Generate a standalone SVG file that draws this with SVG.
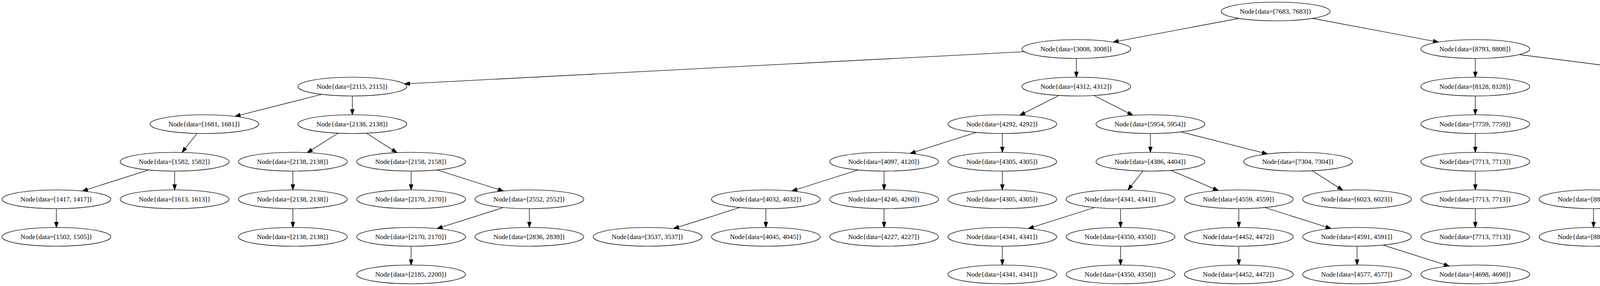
<svg xmlns="http://www.w3.org/2000/svg" width="6040" height="731" viewBox="0 0 6040 731">
<style>
.node ellipse{fill:#fff;stroke:#000;stroke-width:1.33}
.node text{font-family:"Liberation Serif","Times New Roman",serif;font-size:17.5px;text-anchor:middle;fill:#000}
.edges line{stroke:#000;stroke-width:1.33;fill:none;marker-end:url(#arrow)}
</style>
<defs>
<marker id="arrow" markerUnits="userSpaceOnUse" markerWidth="18" markerHeight="14" viewBox="-2 -7 18 14" refX="13.33" refY="0" orient="auto" overflow="visible">
<path d="M0,-4.67 L13.33,0 L0,4.67 Z" fill="#000" stroke="#000" stroke-width="1.33"/>
</marker>
</defs>
<rect x="0" y="0" width="6040" height="731" fill="#fff"/>
<g id="edges" class="edges">
<line x1="3171.7" y1="47.0" x2="2849.6" y2="107.6"/>
<line x1="3360.0" y1="47.0" x2="3682.6" y2="107.6"/>
<line x1="2622.0" y1="132.2" x2="1035.45" y2="214.4"/>
<line x1="2755.5" y1="149.3" x2="2755.5" y2="197.3"/>
<line x1="3776.75" y1="149.3" x2="3776.75" y2="197.3"/>
<line x1="3888.9" y1="139.5" x2="4420.8" y2="207.1"/>
<line x1="823.7" y1="241.15" x2="601.6" y2="297.45"/>
<line x1="902" y1="245.3" x2="902" y2="293.3"/>
<line x1="2710.6" y1="244.0" x2="2610.8" y2="294.6"/>
<line x1="2800.35" y1="244.0" x2="2900.15" y2="294.6"/>
<line x1="3776.75" y1="245.3" x2="3776.75" y2="293.3"/>
<line x1="4533" y1="245.3" x2="4533" y2="293.3"/>
<line x1="4635.5" y1="237.55" x2="5036.0" y2="301.05"/>
<line x1="504.4" y1="341.1" x2="465.9" y2="389.5"/>
<line x1="865.3" y1="340.45" x2="786.5" y2="390.15"/>
<line x1="938.3" y1="340.5" x2="1016.1" y2="390.1"/>
<line x1="2499.45" y1="338.4" x2="2329.75" y2="392.2"/>
<line x1="2565.95" y1="341.3" x2="2565.95" y2="389.3"/>
<line x1="2945" y1="341.3" x2="2945" y2="389.3"/>
<line x1="3023.2" y1="337.2" x2="3244.8" y2="393.4"/>
<line x1="3776.75" y1="341.3" x2="3776.75" y2="389.3"/>
<line x1="4496.6" y1="340.5" x2="4418.55" y2="390.1"/>
<line x1="4569.6" y1="340.5" x2="4648.2" y2="390.15"/>
<line x1="5138.5" y1="341.3" x2="5138.5" y2="389.3"/>
<line x1="5226.55" y1="335.9" x2="5504.9" y2="394.7"/>
<line x1="380.55" y1="434.4" x2="210.85" y2="488.2"/>
<line x1="447.05" y1="437.3" x2="447.05" y2="485.3"/>
<line x1="749.75" y1="437.3" x2="749.75" y2="485.3"/>
<line x1="1052.45" y1="437.3" x2="1052.45" y2="485.3"/>
<line x1="1118.95" y1="434.4" x2="1288.65" y2="488.2"/>
<line x1="2196.75" y1="434.4" x2="2027.05" y2="488.2"/>
<line x1="2263.25" y1="437.3" x2="2263.25" y2="485.3"/>
<line x1="2565.95" y1="437.3" x2="2565.95" y2="485.3"/>
<line x1="2926.1" y1="437.1" x2="2887.55" y2="485.5"/>
<line x1="2997.4" y1="435.55" x2="3118.9" y2="487.05"/>
<line x1="3359.45" y1="436.45" x2="3437.6" y2="486.1"/>
<line x1="3776.75" y1="437.3" x2="3776.75" y2="485.3"/>
<line x1="4315.65" y1="434.4" x2="4145.95" y2="488.2"/>
<line x1="4382.15" y1="437.3" x2="4382.15" y2="485.3"/>
<line x1="4684.85" y1="437.3" x2="4684.85" y2="485.3"/>
<line x1="5102.05" y1="436.45" x2="5023.98" y2="486.1"/>
<line x1="5175.1" y1="436.45" x2="5253.65" y2="486.15"/>
<line x1="5592.95" y1="437.3" x2="5592.95" y2="485.3"/>
<line x1="5659.45" y1="434.4" x2="5829.15" y2="488.2"/>
<line x1="144.35" y1="533.3" x2="144.35" y2="581.3"/>
<line x1="749.75" y1="533.3" x2="749.75" y2="581.3"/>
<line x1="1288.65" y1="530.4" x2="1118.95" y2="584.2"/>
<line x1="1355.15" y1="533.3" x2="1355.15" y2="581.3"/>
<line x1="1894.05" y1="530.4" x2="1724.35" y2="584.2"/>
<line x1="1960.55" y1="533.3" x2="1960.55" y2="581.3"/>
<line x1="2263.25" y1="533.3" x2="2263.25" y2="581.3"/>
<line x1="2802.15" y1="530.4" x2="2632.45" y2="584.2"/>
<line x1="2868.65" y1="533.3" x2="2868.65" y2="581.3"/>
<line x1="3171.35" y1="533.3" x2="3171.35" y2="581.3"/>
<line x1="3237.85" y1="530.4" x2="3407.55" y2="584.2"/>
<line x1="3776.75" y1="533.3" x2="3776.75" y2="581.3"/>
<line x1="4079.45" y1="533.3" x2="4079.45" y2="581.3"/>
<line x1="4382.15" y1="533.3" x2="4382.15" y2="581.3"/>
<line x1="5592.95" y1="533.3" x2="5592.95" y2="581.3"/>
<line x1="1052.45" y1="629.3" x2="1052.45" y2="677.3"/>
<line x1="2565.95" y1="629.3" x2="2565.95" y2="677.3"/>
<line x1="2868.65" y1="629.3" x2="2868.65" y2="677.3"/>
<line x1="3171.35" y1="629.3" x2="3171.35" y2="677.3"/>
<line x1="3474.05" y1="629.3" x2="3474.05" y2="677.3"/>
<line x1="3540.55" y1="626.4" x2="3710.25" y2="680.2"/>
</g>
<g id="n1" class="node"><ellipse cx="3265.8" cy="29.3" rx="139.35" ry="24"/><text x="3265.8" y="34.8">Node{data=[7683, 7683]}</text></g>
<g id="n2" class="node"><ellipse cx="2755.5" cy="125.3" rx="139.35" ry="24"/><text x="2755.5" y="130.8">Node{data=[3008, 3008]}</text></g>
<g id="n3" class="node"><ellipse cx="3776.75" cy="125.3" rx="139.35" ry="24"/><text x="3776.75" y="130.8">Node{data=[8793, 8808]}</text></g>
<g id="n4" class="node"><ellipse cx="902" cy="221.3" rx="139.35" ry="24"/><text x="902" y="226.8">Node{data=[2115, 2115]}</text></g>
<g id="n5" class="node"><ellipse cx="2755.5" cy="221.3" rx="139.35" ry="24"/><text x="2755.5" y="226.8">Node{data=[4312, 4312]}</text></g>
<g id="n6" class="node"><ellipse cx="3776.75" cy="221.3" rx="139.35" ry="24"/><text x="3776.75" y="226.8">Node{data=[8128, 8128]}</text></g>
<g id="n7" class="node"><ellipse cx="4533" cy="221.3" rx="139.35" ry="24"/><text x="4533" y="226.8">Node{data=[8858, 8858]}</text></g>
<g id="n8" class="node"><ellipse cx="523.3" cy="317.3" rx="139.35" ry="24"/><text x="523.3" y="322.8">Node{data=[1681, 1681]}</text></g>
<g id="n9" class="node"><ellipse cx="902" cy="317.3" rx="139.35" ry="24"/><text x="902" y="322.8">Node{data=[2138, 2138]}</text></g>
<g id="n10" class="node"><ellipse cx="2565.95" cy="317.3" rx="139.35" ry="24"/><text x="2565.95" y="322.8">Node{data=[4292, 4292]}</text></g>
<g id="n11" class="node"><ellipse cx="2945" cy="317.3" rx="139.35" ry="24"/><text x="2945" y="322.8">Node{data=[5954, 5954]}</text></g>
<g id="n12" class="node"><ellipse cx="3776.75" cy="317.3" rx="139.35" ry="24"/><text x="3776.75" y="322.8">Node{data=[7759, 7759]}</text></g>
<g id="n13" class="node"><ellipse cx="4533" cy="317.3" rx="139.35" ry="24"/><text x="4533" y="322.8">Node{data=[8834, 8834]}</text></g>
<g id="n14" class="node"><ellipse cx="5138.5" cy="317.3" rx="139.35" ry="24"/><text x="5138.5" y="322.8">Node{data=[9167, 9167]}</text></g>
<g id="n15" class="node"><ellipse cx="447.05" cy="413.3" rx="139.35" ry="24"/><text x="447.05" y="418.8">Node{data=[1582, 1582]}</text></g>
<g id="n16" class="node"><ellipse cx="749.75" cy="413.3" rx="139.35" ry="24"/><text x="749.75" y="418.8">Node{data=[2138, 2138]}</text></g>
<g id="n17" class="node"><ellipse cx="1052.45" cy="413.3" rx="139.35" ry="24"/><text x="1052.45" y="418.8">Node{data=[2158, 2158]}</text></g>
<g id="n18" class="node"><ellipse cx="2263.25" cy="413.3" rx="139.35" ry="24"/><text x="2263.25" y="418.8">Node{data=[4097, 4120]}</text></g>
<g id="n19" class="node"><ellipse cx="2565.95" cy="413.3" rx="139.35" ry="24"/><text x="2565.95" y="418.8">Node{data=[4305, 4305]}</text></g>
<g id="n20" class="node"><ellipse cx="2945" cy="413.3" rx="139.35" ry="24"/><text x="2945" y="418.8">Node{data=[4386, 4404]}</text></g>
<g id="n21" class="node"><ellipse cx="3323" cy="413.3" rx="139.35" ry="24"/><text x="3323" y="418.8">Node{data=[7304, 7304]}</text></g>
<g id="n22" class="node"><ellipse cx="3776.75" cy="413.3" rx="139.35" ry="24"/><text x="3776.75" y="418.8">Node{data=[7713, 7713]}</text></g>
<g id="n23" class="node"><ellipse cx="4382.15" cy="413.3" rx="139.35" ry="24"/><text x="4382.15" y="418.8">Node{data=[8828, 8828]}</text></g>
<g id="n24" class="node"><ellipse cx="4684.85" cy="413.3" rx="139.35" ry="24"/><text x="4684.85" y="418.8">Node{data=[8858, 8858]}</text></g>
<g id="n25" class="node"><ellipse cx="5138.5" cy="413.3" rx="139.35" ry="24"/><text x="5138.5" y="418.8">Node{data=[9085, 9085]}</text></g>
<g id="n26" class="node"><ellipse cx="5592.95" cy="413.3" rx="139.35" ry="24"/><text x="5592.95" y="418.8">Node{data=[9457, 9457]}</text></g>
<g id="n27" class="node"><ellipse cx="144.35" cy="509.3" rx="139.35" ry="24"/><text x="144.35" y="514.8">Node{data=[1417, 1417]}</text></g>
<g id="n28" class="node"><ellipse cx="447.05" cy="509.3" rx="139.35" ry="24"/><text x="447.05" y="514.8">Node{data=[1613, 1613]}</text></g>
<g id="n29" class="node"><ellipse cx="749.75" cy="509.3" rx="139.35" ry="24"/><text x="749.75" y="514.8">Node{data=[2138, 2138]}</text></g>
<g id="n30" class="node"><ellipse cx="1052.45" cy="509.3" rx="139.35" ry="24"/><text x="1052.45" y="514.8">Node{data=[2170, 2170]}</text></g>
<g id="n31" class="node"><ellipse cx="1355.15" cy="509.3" rx="139.35" ry="24"/><text x="1355.15" y="514.8">Node{data=[2552, 2552]}</text></g>
<g id="n32" class="node"><ellipse cx="1960.55" cy="509.3" rx="139.35" ry="24"/><text x="1960.55" y="514.8">Node{data=[4032, 4032]}</text></g>
<g id="n33" class="node"><ellipse cx="2263.25" cy="509.3" rx="139.35" ry="24"/><text x="2263.25" y="514.8">Node{data=[4246, 4260]}</text></g>
<g id="n34" class="node"><ellipse cx="2565.95" cy="509.3" rx="139.35" ry="24"/><text x="2565.95" y="514.8">Node{data=[4305, 4305]}</text></g>
<g id="n35" class="node"><ellipse cx="2868.65" cy="509.3" rx="139.35" ry="24"/><text x="2868.65" y="514.8">Node{data=[4341, 4341]}</text></g>
<g id="n36" class="node"><ellipse cx="3171.35" cy="509.3" rx="139.35" ry="24"/><text x="3171.35" y="514.8">Node{data=[4559, 4559]}</text></g>
<g id="n37" class="node"><ellipse cx="3474.05" cy="509.3" rx="139.35" ry="24"/><text x="3474.05" y="514.8">Node{data=[6023, 6023]}</text></g>
<g id="n38" class="node"><ellipse cx="3776.75" cy="509.3" rx="139.35" ry="24"/><text x="3776.75" y="514.8">Node{data=[7713, 7713]}</text></g>
<g id="n39" class="node"><ellipse cx="4079.45" cy="509.3" rx="139.35" ry="24"/><text x="4079.45" y="514.8">Node{data=[8828, 8828]}</text></g>
<g id="n40" class="node"><ellipse cx="4382.15" cy="509.3" rx="139.35" ry="24"/><text x="4382.15" y="514.8">Node{data=[8834, 8834]}</text></g>
<g id="n41" class="node"><ellipse cx="4684.85" cy="509.3" rx="139.35" ry="24"/><text x="4684.85" y="514.8">Node{data=[8858, 8858]}</text></g>
<g id="n42" class="node"><ellipse cx="4987.55" cy="509.3" rx="139.35" ry="24"/><text x="4987.55" y="514.8">Node{data=[9167, 9167]}</text></g>
<g id="n43" class="node"><ellipse cx="5290.25" cy="509.3" rx="139.35" ry="24"/><text x="5290.25" y="514.8">Node{data=[9167, 9167]}</text></g>
<g id="n44" class="node"><ellipse cx="5592.95" cy="509.3" rx="139.35" ry="24"/><text x="5592.95" y="514.8">Node{data=[9181, 9181]}</text></g>
<g id="n45" class="node"><ellipse cx="5895.65" cy="509.3" rx="139.35" ry="24"/><text x="5895.65" y="514.8">Node{data=[9613, 9613]}</text></g>
<g id="n46" class="node"><ellipse cx="144.35" cy="605.3" rx="139.35" ry="24"/><text x="144.35" y="610.8">Node{data=[1502, 1505]}</text></g>
<g id="n47" class="node"><ellipse cx="749.75" cy="605.3" rx="139.35" ry="24"/><text x="749.75" y="610.8">Node{data=[2138, 2138]}</text></g>
<g id="n48" class="node"><ellipse cx="1052.45" cy="605.3" rx="139.35" ry="24"/><text x="1052.45" y="610.8">Node{data=[2170, 2170]}</text></g>
<g id="n49" class="node"><ellipse cx="1355.15" cy="605.3" rx="139.35" ry="24"/><text x="1355.15" y="610.8">Node{data=[2836, 2839]}</text></g>
<g id="n50" class="node"><ellipse cx="1657.85" cy="605.3" rx="139.35" ry="24"/><text x="1657.85" y="610.8">Node{data=[3537, 3537]}</text></g>
<g id="n51" class="node"><ellipse cx="1960.55" cy="605.3" rx="139.35" ry="24"/><text x="1960.55" y="610.8">Node{data=[4045, 4045]}</text></g>
<g id="n52" class="node"><ellipse cx="2263.25" cy="605.3" rx="139.35" ry="24"/><text x="2263.25" y="610.8">Node{data=[4227, 4227]}</text></g>
<g id="n53" class="node"><ellipse cx="2565.95" cy="605.3" rx="139.35" ry="24"/><text x="2565.95" y="610.8">Node{data=[4341, 4341]}</text></g>
<g id="n54" class="node"><ellipse cx="2868.65" cy="605.3" rx="139.35" ry="24"/><text x="2868.65" y="610.8">Node{data=[4350, 4350]}</text></g>
<g id="n55" class="node"><ellipse cx="3171.35" cy="605.3" rx="139.35" ry="24"/><text x="3171.35" y="610.8">Node{data=[4452, 4472]}</text></g>
<g id="n56" class="node"><ellipse cx="3474.05" cy="605.3" rx="139.35" ry="24"/><text x="3474.05" y="610.8">Node{data=[4591, 4591]}</text></g>
<g id="n57" class="node"><ellipse cx="3776.75" cy="605.3" rx="139.35" ry="24"/><text x="3776.75" y="610.8">Node{data=[7713, 7713]}</text></g>
<g id="n58" class="node"><ellipse cx="4079.45" cy="605.3" rx="139.35" ry="24"/><text x="4079.45" y="610.8">Node{data=[8828, 8828]}</text></g>
<g id="n59" class="node"><ellipse cx="4382.15" cy="605.3" rx="139.35" ry="24"/><text x="4382.15" y="610.8">Node{data=[8834, 8834]}</text></g>
<g id="n60" class="node"><ellipse cx="5592.95" cy="605.3" rx="139.35" ry="24"/><text x="5592.95" y="610.8">Node{data=[9181, 9181]}</text></g>
<g id="n61" class="node"><ellipse cx="1052.45" cy="701.3" rx="139.35" ry="24"/><text x="1052.45" y="706.8">Node{data=[2185, 2200]}</text></g>
<g id="n62" class="node"><ellipse cx="2565.95" cy="701.3" rx="139.35" ry="24"/><text x="2565.95" y="706.8">Node{data=[4341, 4341]}</text></g>
<g id="n63" class="node"><ellipse cx="2868.65" cy="701.3" rx="139.35" ry="24"/><text x="2868.65" y="706.8">Node{data=[4350, 4350]}</text></g>
<g id="n64" class="node"><ellipse cx="3171.35" cy="701.3" rx="139.35" ry="24"/><text x="3171.35" y="706.8">Node{data=[4452, 4472]}</text></g>
<g id="n65" class="node"><ellipse cx="3474.05" cy="701.3" rx="139.35" ry="24"/><text x="3474.05" y="706.8">Node{data=[4577, 4577]}</text></g>
<g id="n66" class="node"><ellipse cx="3776.75" cy="701.3" rx="139.35" ry="24"/><text x="3776.75" y="706.8">Node{data=[4698, 4698]}</text></g>
</svg>
